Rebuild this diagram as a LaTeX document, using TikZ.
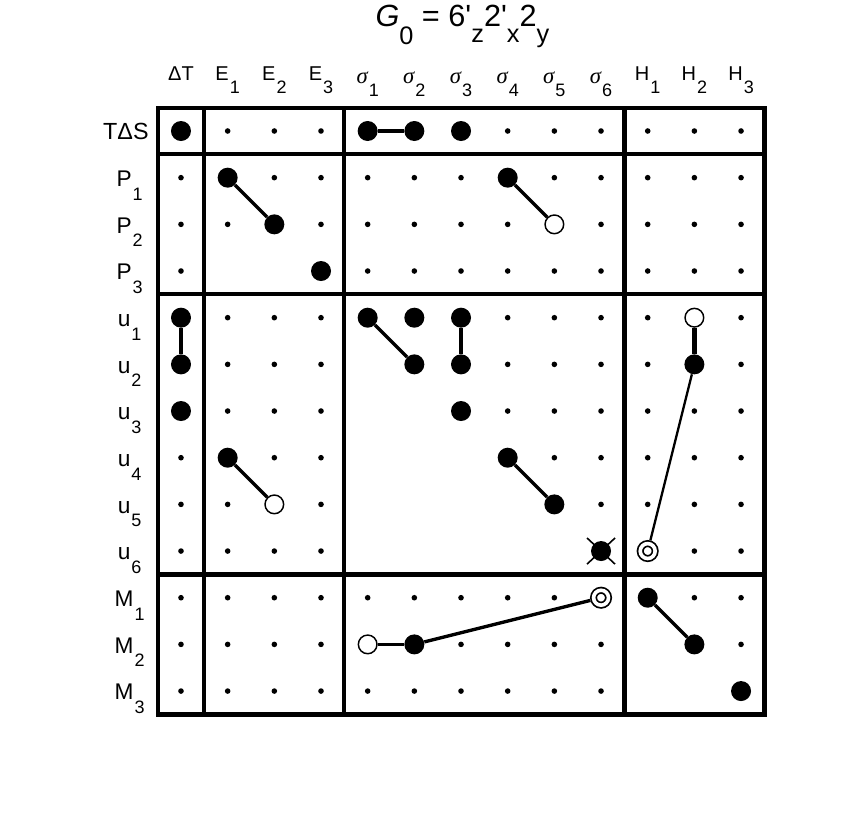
\documentclass[tikz,border=0pt]{standalone}
\usepackage{fontspec}
\setmainfont{Liberation Sans}
\newfontfamily\serifgr{Liberation Serif}
\newcommand{\rowsub}[2]{{\fontsize{17}{19}\selectfont #1\kern0.8pt\raisebox{-10.3pt}{\fontsize{13.5}{15}\selectfont #2}}}
\newcommand{\colsub}[2]{{\fontsize{15}{17}\selectfont #1\kern0.8pt\raisebox{-9.5pt}{\fontsize{13.5}{15}\selectfont #2}}}
\newcommand{\sig}{{\serifgr\itshape\fontsize{17}{19}\selectfont σ}}
\newcommand{\tsub}[2]{\raisebox{-#1}{\fontsize{19}{22}\selectfont #2}}
\tikzset{
  ms/.style={circle, fill, inner sep=0pt, minimum size=4.2pt},
  mf/.style={circle, fill, inner sep=0pt, minimum size=15pt},
  mo/.style={circle, draw, fill=white, line width=1.1pt, inner sep=0pt, minimum size=14pt},
  md/.style={circle, draw, double, double distance=2.7pt, line width=1.3pt, fill=white,
    inner sep=0pt, minimum size=11.2pt, outer sep=2.65pt},
  mx/.style={mf},
  mn/.style={inner sep=0pt},
  frame/.style={line width=3.2pt},
  link/.style={line width=2.5pt},
  thinlink/.style={line width=1.7pt},
  xcross/.style={line width=1.2pt},
  lab/.style={anchor=base, inner sep=0pt}
}
\begin{document}
\begin{tikzpicture}[x=35pt, y=-35pt]
  \useasboundingbox (-3.878,-2.807) rectangle (14.463,14.592);
  % title
  \node[lab] (title) at (6.03,-2.23) {\fontsize{23}{26}\selectfont\textit{G}\tsub{13.5pt}{0} = 6\textquotesingle\tsub{12pt}{z}2\textquotesingle\tsub{12pt}{x}2\tsub{12pt}{y}};
  % column heads
  \node[lab] (hT) at (0,-1.08) {\fontsize{15}{17}\selectfont ΔT};
  \foreach \j in {1,2,3}
    \node[lab] (hE\j) at (\j,-1.08) {\colsub{E}{\j}};
  \foreach \j in {1,...,6}
    \node[lab] (hs\j) at (\j+3,-1.01) {\colsub{\sig}{\j}};
  \foreach \j in {1,2,3}
    \node[lab] (hH\j) at (\j+9,-1.08) {\colsub{H}{\j}};
  % row heads
  \node[lab] (lTS) at (-1.18,0.18) {\fontsize{17.5}{19}\selectfont TΔS};
  \foreach \n/\s [count=\i from 1] in {P/1,P/2,P/3,u/1,u/2,u/3,u/4,u/5,u/6,M/1,M/2,M/3}
    \node[lab] (l\i) at (-1.1,\i+0.19) {\rowsub{\n}{\s}};
  % frame
  \draw[frame] (-0.5,-0.5) rectangle (12.5,12.5);
  \foreach \p in {0.5,3.5,9.5} {
    \draw[frame] (\p,-0.5) -- (\p,12.5);
    \draw[frame] (-0.5,\p) -- (12.5,\p);
  }
  % cells: s small, f full, o open, d ring, x crossed, n none
  \foreach \cells [count=\i from 0] in {
      {f,s,s,s,f,f,f,s,s,s,s,s,s},
      {s,f,s,s,s,s,s,f,s,s,s,s,s},
      {s,s,f,s,s,s,s,s,o,s,s,s,s},
      {s,n,n,f,s,s,s,s,s,s,s,s,s},
      {f,s,s,s,f,f,f,s,s,s,s,o,s},
      {f,s,s,s,n,f,f,s,s,s,s,f,s},
      {f,s,s,s,n,n,f,s,s,s,s,s,s},
      {s,f,s,s,n,n,n,f,s,s,s,s,s},
      {s,s,o,s,n,n,n,n,f,s,s,s,s},
      {s,s,s,s,n,n,n,n,n,x,d,s,s},
      {s,s,s,s,s,s,s,s,s,d,f,s,s},
      {s,s,s,s,o,f,s,s,s,s,n,f,s},
      {s,s,s,s,s,s,s,s,s,s,n,n,f}}
    \foreach \k [count=\j from 0] in \cells
      \node[m\k] (c\i-\j) at (\j,\i) {};
  \draw[xcross] (c9-9.center) +(-.3,-.28) -- +(.3,.28) +(-.3,.28) -- +(.3,-.28);
  % links
  \draw[link] (c0-4) -- (c0-5);
  \draw[link] (c1-1) -- (c2-2);
  \draw[link] (c1-7) -- (c2-8);
  \draw[link] (c4-0) -- (c5-0);
  \draw[link] (c4-4) -- (c5-5);
  \draw[link] (c4-6) -- (c5-6);
  \draw[link] (c7-1) -- (c8-2);
  \draw[link] (c7-7) -- (c8-8);
  \draw[link, line width=3.2pt] (c4-11) -- (c5-11);
  \draw[thinlink] (c5-11) -- (c9-10);
  \draw[link] (c11-4) -- (c11-5);
  \draw[link] (c11-5) -- (c10-9);
  \draw[link] (c10-10) -- (c11-11);
\end{tikzpicture}
\end{document}
